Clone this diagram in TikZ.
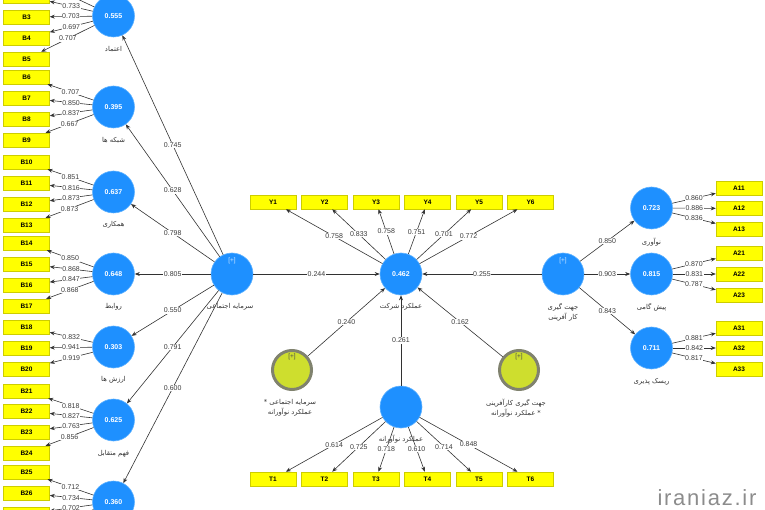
\documentclass[tikz,border=0pt]{standalone}
\usepackage{fontspec}
\setmainfont{Liberation Sans}
\newfontfamily\arabicfont[Script=Arabic]{DejaVu Sans}
\newfontfamily\wmfont[LetterSpace=8]{Liberation Sans}
\TeXXeTstate=1
\usetikzlibrary{arrows.meta,calc}

\definecolor{lvblue}{RGB}{30,144,255}
\definecolor{lvedge}{RGB}{95,178,255}
\definecolor{boxy}{RGB}{255,255,0}
\definecolor{boxedge}{RGB}{205,205,0}
\definecolor{modfill}{RGB}{206,222,46}
\definecolor{modedge}{RGB}{128,130,110}
\definecolor{linec}{RGB}{50,50,50}
\definecolor{numc}{RGB}{60,60,60}

\tikzset{
 lv/.style={circle, fill=lvblue, draw=lvedge, line width=0.6pt, minimum size=42pt, inner sep=0pt, text=white, font=\fontsize{7}{8}\selectfont\bfseries},
 mv/.style={rectangle, fill=boxy, draw=boxedge, line width=0.5pt, minimum width=46pt, minimum height=14pt, inner sep=0pt, font=\fontsize{6.5}{7}\selectfont\bfseries},
 modc/.style={circle, fill=modfill, draw=modedge, line width=3pt, minimum size=39pt, inner sep=0pt},
 ld/.style={draw=linec, line width=0.6pt, -{Stealth[length=5pt,width=4pt]}},
 coef/.style={fill=white, inner sep=0.6pt, text=numc, font=\fontsize{7}{8}\selectfont},
 lbl/.style={font=\fontsize{6.8}{10}\selectfont\arabicfont, text=black!80, align=center},
 plusw/.style={font=\fontsize{6.5}{7}\selectfont, text=white!80!lvblue},
 plusd/.style={font=\fontsize{6.5}{7}\selectfont, text=black!70},
 wm/.style={font=\fontsize{22}{24}\selectfont\wmfont, text=black!45, anchor=base}
}

\begin{document}
\begin{tikzpicture}[x=1pt,y=-1pt]
\useasboundingbox (0,0) rectangle (765,510);
\clip (0,0) rectangle (765,510);

% ---------- left indicator boxes ----------
\foreach \n/\y in {1/-25,2/-4,3/17,4/38,5/59,6/77,7/98,8/119,9/140,10/162,11/183,12/204,13/225,14/243,15/264,16/285,17/306,18/327,19/348,20/369,21/391,22/411,23/432,24/453,25/472,26/493,27/514,28/535}
  \node[mv] (B\n) at (26.5,\y) {B\n};

% ---------- left latent variables ----------
\node[lv] (L1) at (113.5,16) {0.555};
\node[lv] (L2) at (113.5,107) {0.395};
\node[lv] (L3) at (113.5,192) {0.637};
\node[lv] (L4) at (113.5,274) {0.648};
\node[lv] (L5) at (113.5,347) {0.303};
\node[lv] (L6) at (113.5,420) {0.625};
\node[lv] (L7) at (113.5,502) {0.360};

\node[lbl] at ($(L1)+(0,33)$) {\beginR اعتماد\endR};
\node[lbl] at ($(L2)+(0,33)$) {\beginR شبکه ها\endR};
\node[lbl] at ($(L3)+(0,33)$) {\beginR همکاری\endR};
\node[lbl] at ($(L4)+(0,33)$) {\beginR روابط\endR};
\node[lbl] at ($(L5)+(0,33)$) {\beginR ارزش ها\endR};
\node[lbl] at ($(L6)+(0,34)$) {\beginR فهم متقابل\endR};

% ---------- social capital ----------
\node[lv] (SC) at (232,274) {};
\node[plusw] at ($(SC)+(0,-13)$) {[+]};
\node[lbl] at ($(SC)+(-2,33)$) {\beginR سرمایه اجتماعی\endR};

% ---------- firm performance ----------
\node[lv] (FP) at (401,274) {0.462};
\node[lbl] at ($(FP)+(0,33)$) {\beginR عملکرد شرکت\endR};
\foreach \n/\x in {1/273,2/324.5,3/376,4/427.5,5/479,6/530.5}
  \node[mv] (Y\n) at (\x,202) {Y\n};

% ---------- innovative performance ----------
\node[lv] (IP) at (401,407) {};
\node[lbl] at ($(IP)+(0,32)$) {\beginR عملکرد نوآورانه\endR};
\foreach \n/\x in {1/273,2/324.5,3/376,4/427.5,5/479,6/530.5}
  \node[mv] (T\n) at (\x,479) {T\n};

% ---------- moderators ----------
\node[modc] (M1) at (292,370) {};
\node[plusd] at ($(M1)+(0,-13)$) {[+]};
\node[lbl] at ($(M1)+(-2,38)$) {\beginR سرمایه اجتماعی *\endR\\\beginR عملکرد نوآورانه\endR};
\node[modc] (M2) at (519,370) {};
\node[plusd] at ($(M2)+(0,-13)$) {[+]};
\node[lbl] at ($(M2)+(-3,38)$) {\beginR جهت گیری کارآفرینی\endR\\\beginR * عملکرد نوآورانه\endR};

% ---------- entrepreneurial orientation ----------
\node[lv] (EO) at (563,274) {};
\node[plusw] at ($(EO)+(0,-13)$) {[+]};
\node[lbl] at ($(EO)+(0,38)$) {\beginR جهت گیری\endR\\\beginR کار آفرینی\endR};

\node[lv] (R1) at (651.5,208) {0.723};
\node[lv] (R2) at (651.5,274) {0.815};
\node[lv] (R3) at (651.5,348) {0.711};
\node[lbl] at ($(R1)+(0,34)$) {\beginR نوآوری\endR};
\node[lbl] at ($(R2)+(0,33)$) {\beginR پیش گامی\endR};
\node[lbl] at ($(R3)+(0,34)$) {\beginR ریسک پذیری\endR};

\foreach \n/\y in {11/188,12/208.5,13/229,21/253,22/274,23/295.5,31/328,32/348,33/369}
  \node[mv] (A\n) at (739,\y) {A\n};

% ---------- loadings: left ----------
\draw[ld] (L1) -- (B1);
\foreach \b/\v in {2/0.733,3/0.703,4/0.697,5/0.707}
  \draw[ld] (L1) -- node[coef,midway]{\v} (B\b);
\foreach \b/\v in {6/0.707,7/0.850,8/0.837,9/0.667}
  \draw[ld] (L2) -- node[coef,midway]{\v} (B\b);
\foreach \b/\v in {10/0.851,11/0.816,12/0.873,13/0.873}
  \draw[ld] (L3) -- node[coef,midway]{\v} (B\b);
\foreach \b/\v in {14/0.850,15/0.868,16/0.847,17/0.868}
  \draw[ld] (L4) -- node[coef,midway]{\v} (B\b);
\foreach \b/\v in {18/0.832,19/0.941,20/0.919}
  \draw[ld] (L5) -- node[coef,midway]{\v} (B\b);
\foreach \b/\v in {21/0.818,22/0.827,23/0.763,24/0.856}
  \draw[ld] (L6) -- node[coef,midway]{\v} (B\b);
\foreach \b/\v in {25/0.712,26/0.734,27/0.702}
  \draw[ld] (L7) -- node[coef,midway]{\v} (B\b);
\draw[ld] (L7) -- (B28);

% ---------- structural: social capital ----------
\foreach \l/\v in {1/0.745,2/0.628,3/0.798,4/0.805,5/0.550,6/0.791,7/0.600}
  \draw[ld] (SC) -- node[coef,midway]{\v} (L\l);

% ---------- firm performance loadings ----------
\foreach \n/\v in {1/0.758,2/0.833,3/0.758,4/0.751,5/0.701,6/0.772}
  \draw[ld] (FP) -- node[coef,midway]{\v} (Y\n);
\foreach \n/\v in {1/0.614,2/0.725,3/0.718,4/0.610,5/0.714,6/0.848}
  \draw[ld] (IP) -- node[coef,midway]{\v} (T\n);

% ---------- structural paths to firm performance ----------
\draw[ld] (SC) -- node[coef,midway]{0.244} (FP);
\draw[ld] (EO) -- node[coef,midway]{0.255} (FP);
\draw[ld] (IP) -- node[coef,midway]{0.261} (FP);
\draw[ld] (M1) -- node[coef,midway]{0.240} (FP);
\draw[ld] (M2) -- node[coef,midway]{0.162} (FP);

% ---------- entrepreneurial orientation ----------
\draw[ld] (EO) -- node[coef,midway]{0.850} (R1);
\draw[ld] (EO) -- node[coef,midway]{0.903} (R2);
\draw[ld] (EO) -- node[coef,midway]{0.843} (R3);
\foreach \n/\v in {11/0.860,12/0.886,13/0.836}
  \draw[ld] (R1) -- node[coef,midway]{\v} (A\n);
\foreach \n/\v in {21/0.870,22/0.831,23/0.787}
  \draw[ld] (R2) -- node[coef,midway]{\v} (A\n);
\foreach \n/\v in {31/0.881,32/0.842,33/0.817}
  \draw[ld] (R3) -- node[coef,midway]{\v} (A\n);

% ---------- watermark ----------
\node[wm] (wmark) at (707,505) {iraniaz.ir};
\end{tikzpicture}
\end{document}
